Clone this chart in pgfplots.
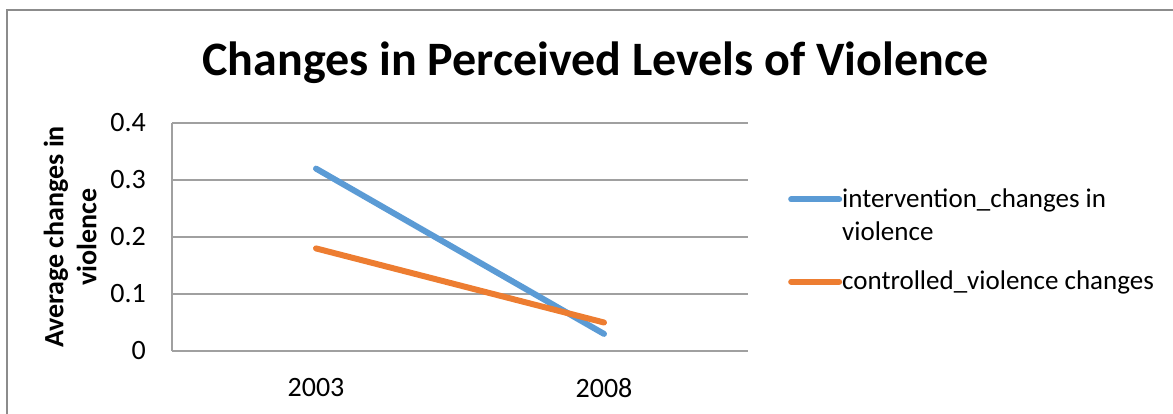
\documentclass[border=0pt]{standalone}
\usepackage{fontspec}
\setmainfont{Carlito}
\usepackage{pgfplots}
\pgfplotsset{compat=1.18}
\definecolor{sblue}{HTML}{5B9BD5}
\definecolor{sorange}{HTML}{ED7D31}
\definecolor{axgray}{HTML}{A0A0A0}
\definecolor{bordergray}{HTML}{8C8C8C}
\begin{document}
\begin{tikzpicture}[x=1pt,y=1pt]
\useasboundingbox (0,0) rectangle (1173,413);
\draw[bordergray, line width=1.3pt] (7,-2) -- (7,403) -- (1176,403);
\node[anchor=base, font=\fontsize{48}{58}\selectfont\bfseries, inner sep=0pt] at (595.5,337) {Changes in Perceived Levels of Violence};
\begin{axis}[
  at={(172pt,62pt)}, anchor=south west,
  width=576pt, height=228pt, scale only axis,
  xmin=0, xmax=2, ymin=0, ymax=0.4,
  xtick={0.5,1.5}, xticklabels={2003,2008},
  ytick={0,0.1,0.2,0.3,0.4},
  yticklabels={0,0.1,0.2,0.3,0.4},
  axis x line*=bottom, axis y line*=left,
  axis line style={axgray, line width=1.2pt, -},
  major tick length=0pt,
  ymajorgrids, grid style={axgray, line width=1.2pt},
  tick label style={font=\fontsize{28}{34}\selectfont, inner sep=0pt},
  xticklabel style={yshift=-27pt},
  yticklabel style={xshift=-26pt},
  ylabel={Average changes in\\violence},
  ylabel style={at={(axis description cs:-0.177,0.5)}, anchor=center, align=center, font=\fontsize{28}{33}\selectfont\bfseries},
  legend style={at={(axis description cs:1.0694,0.487)}, anchor=west, draw=none, fill=none, inner sep=0pt,
    row sep=62pt, font=\fontsize{27}{33}\selectfont,
    nodes={inner sep=0pt, anchor=base west}},
  legend cell align=left,
  legend image code/.code={\draw[#1, line width=6pt, line cap=round] (3pt,8pt) -- (51pt,8pt);},
  clip=false,
]
\addplot[sblue, line width=6pt, line cap=round] coordinates {(0.5,0.32) (1.5,0.03)};
\addlegendentry{\vtop{\hbox{intervention\_changes in}\hbox{violence}}}
\addplot[sorange, line width=6pt, line cap=round] coordinates {(0.5,0.18) (1.5,0.05)};
\addlegendentry{controlled\_violence changes}
\end{axis}
\end{tikzpicture}
\end{document}
